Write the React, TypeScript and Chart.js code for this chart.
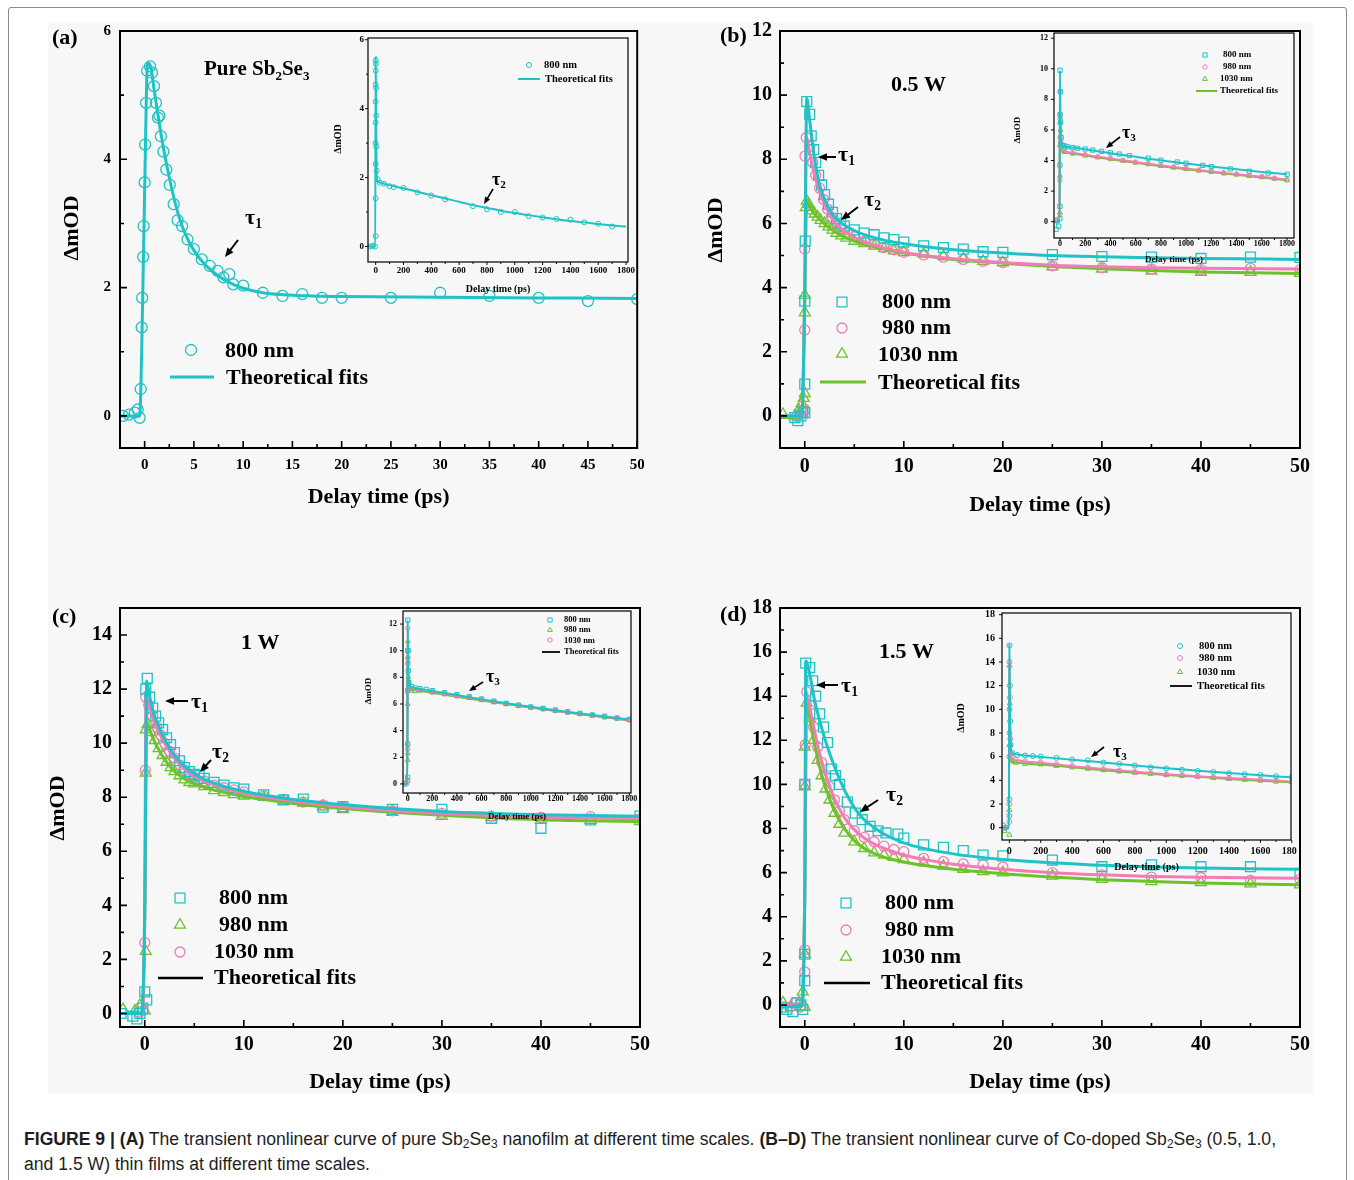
import React, { useEffect, useRef } from 'react';
import { Chart, registerables } from 'chart.js';

Chart.register(...registerables);

type P = [number, number];

// ---------------- DATA ----------------
// Panel (a) main: pure Sb2Se3, 800 nm
const A_800_PTS: P[] = [[-2.2,0.0],[-1.6,0.02],[-1.0,0.05],[-0.7,0.1],[-0.5,-0.03],[-0.4,0.42],[-0.3,1.38],[-0.25,1.84],[-0.15,2.48],[-0.1,2.96],[0,3.64],[0.05,4.23],[0.15,4.88],[0.25,5.38],[0.55,5.45],[0.75,5.35],[0.95,5.14],[1.15,4.88],[1.35,4.65],[1.5,4.68],[1.65,4.36],[1.9,4.12],[2.2,3.84],[2.55,3.6],[2.95,3.3],[3.35,3.05],[3.8,2.96],[4.35,2.75],[5.0,2.6],[5.8,2.44],[6.6,2.34],[7.4,2.26],[8.0,2.16],[8.6,2.21],[9.0,2.05],[10,2.03],[12,1.92],[14,1.87],[16,1.9],[18,1.84],[20,1.84],[25,1.84],[30,1.92],[35,1.87],[40,1.84],[45,1.79],[50,1.82]];
const A_800_FIT: P[] = [[-2.5,0],[-0.5,0],[-0.3,1.0],[0.0,3.5],[0.3,5.5],[0.6,5.45],[1.0,5.05],[1.5,4.55],[2.0,4.1],[2.5,3.72],[3.0,3.38],[3.5,3.1],[4.0,2.88],[5.0,2.58],[6.0,2.38],[7.0,2.24],[8.0,2.13],[9.0,2.05],[10,1.99],[12,1.92],[14,1.89],[17,1.87],[20,1.86],[30,1.85],[40,1.84],[50,1.83]];
// Panel (a) inset
const AI_800_PTS: P[] = [[-40,0],[-20,0.02],[-5,0],[0,0.3],[0,1.4],[0,2.4],[0,3.0],[0,3.6],[0,4.2],[0,4.7],[1,5.1],[1,5.4],[2,5.3],[3,4.6],[4,3.8],[5,2.9],[8,2.2],[15,1.95],[30,1.85],[60,1.82],[100,1.75],[130,1.72],[200,1.7],[300,1.57],[400,1.48],[500,1.37],[700,1.17],[800,1.08],[900,1.0],[1000,1.0],[1100,0.88],[1200,0.84],[1300,0.8],[1400,0.78],[1500,0.7],[1600,0.66],[1700,0.58]];
const AI_800_FIT: P[] = [[-55,0],[-3,0],[0,5.5],[3,4.0],[6,2.5],[10,1.92],[30,1.86],[60,1.82],[100,1.78],[200,1.69],[300,1.59],[400,1.49],[500,1.39],[600,1.3],[700,1.2],[800,1.12],[900,1.04],[1000,0.97],[1100,0.91],[1200,0.85],[1300,0.79],[1400,0.74],[1500,0.7],[1600,0.65],[1700,0.61],[1800,0.58]];

// Panel (b) main: 0.5 W
const B_800_PTS: P[] = [[-1.0,-0.05],[-0.7,-0.15],[-0.4,0.0],[-0.2,0.1],[0,0.1],[0,0.99],[0,3.58],[0.05,5.45],[0.2,9.8],[0.5,9.4],[0.65,8.73],[0.9,8.3],[1.1,7.9],[1.4,7.5],[1.7,7.2],[2.0,6.9],[2.4,6.6],[2.8,6.35],[3.2,6.15],[3.6,6.0],[4.0,5.92],[5.0,5.8],[6.0,5.7],[7.0,5.65],[8.0,5.55],[9.0,5.5],[10,5.42],[12,5.3],[14,5.25],[16,5.2],[18,5.12],[20,5.1],[25,5.03],[30,4.97],[35,4.95],[40,4.91],[45,4.95],[50,4.94]];
const B_800_FIT: P[] = [[-2.5,0],[-0.3,0],[0,4],[0.2,9.9],[0.5,9.2],[1,8.0],[1.5,7.2],[2,6.75],[3,6.2],[4,5.95],[5,5.78],[6,5.65],[8,5.48],[10,5.37],[12,5.28],[15,5.18],[20,5.08],[25,5.0],[30,4.96],[35,4.93],[40,4.91],[50,4.88]];
const B_980_PTS: P[] = [[-0.8,0.0],[-0.5,0.05],[-0.2,0.1],[0,0.2],[0,2.68],[0,5.2],[0.02,8.1],[0.15,8.68],[0.5,8.4],[0.8,7.9],[1.1,7.5],[1.5,7.1],[1.9,6.75],[2.3,6.45],[2.7,6.2],[3.2,6.0],[3.7,5.85],[4.3,5.7],[5,5.58],[6,5.45],[7,5.35],[8,5.25],[9,5.18],[10,5.1],[12,5.02],[14,4.95],[16,4.88],[18,4.82],[20,4.78],[25,4.68],[30,4.62],[35,4.58],[40,4.56],[45,4.6],[50,4.56]];
const B_980_FIT: P[] = [[-2.5,0],[-0.3,0],[0,4],[0.15,8.7],[0.5,8.2],[1,7.5],[1.5,7.0],[2,6.6],[3,6.05],[4,5.75],[5,5.57],[6,5.43],[8,5.24],[10,5.1],[12,5.0],[15,4.9],[20,4.78],[25,4.7],[30,4.65],[35,4.62],[40,4.6],[50,4.58]];
const B_1030_PTS: P[] = [[-2.2,0.05],[-1.0,0.0],[-0.6,0.2],[-0.3,0.4],[-0.1,0.55],[0,0.7],[0,3.22],[0,3.76],[0.1,6.5],[0.2,6.7],[0.4,6.6],[0.7,6.4],[1.0,6.3],[1.3,6.2],[1.6,6.1],[2.0,6.0],[2.4,5.9],[2.8,5.8],[3.2,5.7],[3.7,5.62],[4.2,5.55],[5,5.45],[6,5.38],[7,5.3],[8,5.22],[9,5.15],[10,5.1],[12,5.05],[14,4.97],[16,4.9],[18,4.82],[20,4.78],[25,4.65],[30,4.58],[35,4.52],[40,4.48],[45,4.48],[50,4.45]];
const B_1030_FIT: P[] = [[-2.5,-0.05],[-0.3,0],[0,3.5],[0.2,6.75],[0.5,6.55],[1,6.3],[2,5.98],[3,5.75],[4,5.58],[5,5.46],[6,5.36],[8,5.2],[10,5.08],[12,4.99],[15,4.88],[20,4.76],[25,4.66],[30,4.59],[35,4.53],[40,4.49],[50,4.44]];
// Panel (b) inset
const BI_800_PTS: P[] = [[-30,-0.5],[-10,-0.3],[0,0.2],[0,1.0],[0,3.7],[1,7],[1,9.9],[3,8.5],[5,6.5],[10,5.5],[20,5.0],[40,4.95],[60,4.9],[100,4.85],[140,4.8],[200,4.75],[260,4.68],[330,4.6],[400,4.5],[470,4.42],[550,4.32],[700,4.15],[800,4.02],[930,3.9],[1000,3.82],[1130,3.68],[1200,3.6],[1350,3.45],[1500,3.3],[1650,3.18],[1800,3.1]];
const BI_800_FIT: P[] = [[-47,0],[-3,0],[0,9.9],[3,7.5],[6,5.5],[15,5.0],[40,4.92],[100,4.85],[200,4.73],[300,4.6],[400,4.48],[500,4.36],[600,4.24],[700,4.12],[800,4.01],[900,3.9],[1000,3.8],[1200,3.6],[1400,3.42],[1600,3.25],[1800,3.1]];
const BI_980_PTS: P[] = [[-20,0],[0,0.5],[0,2.7],[1,5.5],[1,8.5],[3,7],[6,5.2],[15,4.7],[40,4.6],[100,4.5],[200,4.38],[300,4.25],[400,4.13],[500,4.02],[600,3.9],[700,3.8],[800,3.68],[900,3.58],[1000,3.48],[1100,3.38],[1200,3.3],[1300,3.2],[1400,3.12],[1500,3.02],[1600,2.95],[1700,2.85],[1800,2.75]];
const BI_980_FIT: P[] = [[-47,0],[-3,0],[0,8.6],[3,6.8],[6,5.0],[15,4.65],[40,4.57],[100,4.5],[200,4.38],[400,4.13],[600,3.9],[800,3.68],[1000,3.47],[1200,3.28],[1400,3.1],[1600,2.93],[1800,2.75]];
const BI_1030_PTS: P[] = [[-30,0.1],[0,0.6],[0,3.0],[0,5.0],[1,6.5],[2,6.8],[4,6.0],[8,5.2],[15,4.7],[40,4.55],[100,4.45],[200,4.32],[300,4.2],[400,4.08],[500,3.97],[600,3.85],[700,3.75],[800,3.63],[900,3.53],[1000,3.43],[1100,3.33],[1200,3.25],[1300,3.15],[1400,3.07],[1500,2.98],[1600,2.9],[1700,2.8],[1800,2.7]];
const BI_1030_FIT: P[] = [[-47,0],[-3,0],[0,6.8],[4,5.8],[8,4.9],[15,4.6],[40,4.52],[100,4.45],[200,4.33],[400,4.08],[600,3.85],[800,3.63],[1000,3.43],[1200,3.24],[1400,3.06],[1600,2.88],[1800,2.7]];

// Panel (c) main: 1 W
const C_800_PTS: P[] = [[-2.4,0.0],[-1.2,-0.1],[-0.8,-0.2],[-0.5,0.0],[-0.2,0.2],[0,0.8],[0.2,0.5],[0.1,12.0],[0.25,12.4],[0.5,11.7],[0.8,11.3],[1.1,11.0],[1.4,10.75],[1.8,10.5],[2.2,10.2],[2.6,9.95],[3.0,9.65],[3.5,9.35],[4.0,9.1],[4.5,8.95],[5.0,8.85],[5.5,8.8],[6.0,8.7],[7.0,8.55],[8.0,8.45],[9.0,8.35],[10,8.3],[12,8.09],[14,7.9],[16,7.93],[18,7.63],[20,7.65],[25,7.55],[30,7.55],[35,7.22],[40,6.85],[45,7.16],[50,7.3]];
const C_800_FIT: P[] = [[-2.5,0],[-0.3,0],[0,4],[0.2,12.3],[0.5,11.7],[1,11.0],[1.5,10.55],[2,10.15],[3,9.55],[4,9.15],[5,8.87],[6,8.67],[8,8.4],[10,8.22],[12,8.08],[15,7.92],[20,7.73],[25,7.58],[30,7.47],[35,7.4],[40,7.35],[50,7.3]];
const C_980_PTS: P[] = [[-2.2,0.15],[-1.0,0.1],[-0.5,0.3],[0,0.1],[0.1,2.3],[0.1,8.9],[0.1,10.5],[0.3,10.7],[0.6,10.4],[1.0,10.1],[1.4,9.8],[1.8,9.55],[2.2,9.3],[2.6,9.1],[3.0,8.95],[3.5,8.8],[4.0,8.65],[4.5,8.55],[5,8.5],[6,8.4],[7,8.25],[8,8.18],[9,8.1],[10,8.05],[12,8.0],[14,7.85],[16,7.78],[18,7.65],[20,7.55],[25,7.45],[30,7.3],[35,7.25],[40,7.15],[45,7.15],[50,7.1]];
const C_980_FIT: P[] = [[-2.5,0],[-0.3,0],[0,3.5],[0.2,10.8],[0.5,10.5],[1,10.05],[1.5,9.7],[2,9.4],[3,8.95],[4,8.68],[5,8.5],[6,8.37],[8,8.18],[10,8.03],[12,7.92],[15,7.77],[20,7.58],[25,7.44],[30,7.33],[35,7.24],[40,7.17],[50,7.1]];
const C_1030_PTS: P[] = [[-0.6,0.05],[-0.2,0.1],[0,2.62],[0.05,9.0],[0.1,11.7],[0.4,11.4],[0.8,11.0],[1.2,10.6],[1.6,10.3],[2.0,10.0],[2.5,9.7],[3.0,9.45],[3.5,9.2],[4.0,9.0],[4.5,8.85],[5,8.75],[6,8.6],[7,8.45],[8,8.35],[9,8.27],[10,8.2],[12,8.05],[14,7.92],[16,7.82],[18,7.72],[20,7.63],[25,7.5],[30,7.4],[35,7.3],[40,7.25],[45,7.28],[50,7.2]];
const C_1030_FIT: P[] = [[-2.5,0],[-0.3,0],[0,4],[0.12,11.7],[0.5,11.3],[1,10.75],[1.5,10.35],[2,10.0],[3,9.45],[4,9.05],[5,8.78],[6,8.6],[8,8.34],[10,8.15],[12,8.02],[15,7.85],[20,7.65],[25,7.5],[30,7.4],[35,7.32],[40,7.26],[50,7.2]];
// Panel (c) inset
const CI_800_PTS: P[] = [[-30,0],[0,0.5],[0,3],[0,7],[1,10],[1,12.3],[3,10],[5,8.5],[10,7.6],[30,7.3],[60,7.2],[100,7.15],[150,7.1],[200,7.0],[300,6.85],[400,6.7],[500,6.55],[600,6.38],[700,6.22],[800,6.05],[900,5.92],[1000,5.78],[1100,5.68],[1200,5.55],[1300,5.42],[1400,5.3],[1500,5.18],[1600,5.08],[1700,4.95],[1800,4.85]];
const CI_800_FIT: P[] = [[-41,0],[-3,0],[0,12.3],[3,9.5],[8,7.8],[20,7.35],[50,7.22],[100,7.13],[200,6.98],[400,6.67],[600,6.36],[800,6.06],[1000,5.79],[1200,5.53],[1400,5.29],[1600,5.06],[1800,4.85]];
const CI_980_PTS: P[] = [[-20,0.1],[0,0.3],[0,1.8],[0,2.3],[0,6],[1,9.5],[1,10.7],[3,9.2],[6,8],[10,7.3],[30,7.0],[60,6.95],[100,7.0],[200,6.85],[300,6.72],[400,6.58],[500,6.45],[600,6.28],[700,6.12],[800,5.98],[900,5.84],[1000,5.72],[1100,5.6],[1200,5.48],[1300,5.36],[1400,5.24],[1500,5.12],[1600,5.0],[1700,4.9],[1800,4.78]];
const CI_980_FIT: P[] = [[-41,0],[-3,0],[0,10.7],[3,9.0],[8,7.5],[20,7.15],[50,7.05],[100,6.98],[200,6.84],[400,6.55],[600,6.27],[800,5.99],[1000,5.73],[1200,5.47],[1400,5.23],[1600,5.0],[1800,4.76]];
const CI_1030_PTS: P[] = [[-10,0],[0,0.2],[0,2.6],[1,9],[1,11.7],[3,9.5],[8,7.6],[30,7.15],[100,7.05],[200,6.92],[300,6.78],[400,6.63],[500,6.5],[600,6.33],[700,6.17],[800,6.02],[900,5.88],[1000,5.75],[1100,5.63],[1200,5.51],[1300,5.38],[1400,5.26],[1500,5.15],[1600,5.03],[1700,4.92],[1800,4.8]];
const CI_1030_FIT: P[] = [[-41,0],[-3,0],[0,11.7],[3,9.3],[8,7.6],[20,7.25],[50,7.12],[100,7.05],[200,6.9],[400,6.6],[600,6.31],[800,6.02],[1000,5.76],[1200,5.5],[1400,5.26],[1600,5.03],[1800,4.8]];

// Panel (d) main: 1.5 W
const D_800_PTS: P[] = [[-2.4,-0.1],[-1.8,-0.2],[-1.2,-0.3],[-0.8,0.1],[-0.4,0.0],[-0.2,-0.2],[0,1.1],[0,2.3],[0,10.0],[0.1,15.5],[0.5,15.3],[0.8,14.7],[1.1,14.0],[1.5,13.2],[1.9,12.6],[2.3,11.9],[2.7,10.7],[3.1,10.4],[3.5,10.0],[4.3,9.2],[5.1,8.7],[5.8,8.4],[6.6,8.1],[7.4,7.9],[8.2,7.8],[9.4,7.75],[10,7.57],[12,7.26],[14,7.15],[16,7.0],[18,6.8],[20,6.76],[25,6.57],[30,6.27],[35,6.35],[40,6.27],[45,6.27],[50,5.97]];
const D_800_FIT: P[] = [[-2.5,-0.1],[-0.3,0],[0,5],[0.1,15.6],[0.5,15.0],[1,13.8],[1.5,12.9],[2,12.1],[3,10.8],[4,9.75],[5,8.95],[6,8.4],[7,8.05],[8,7.75],[10,7.35],[12,7.1],[15,6.85],[20,6.6],[25,6.45],[30,6.33],[35,6.26],[40,6.21],[50,6.15]];
const D_980_PTS: P[] = [[-1.5,-0.1],[-1.0,0.1],[-0.5,-0.1],[0,1.5],[0,2.5],[0,10],[0.05,11.8],[0.2,14.2],[0.5,13.6],[0.9,12.6],[1.3,11.7],[1.7,11.0],[2.1,10.4],[2.5,9.9],[3.0,9.3],[3.5,8.8],[4.0,8.4],[5,7.9],[6,7.6],[7,7.4],[8,7.2],[9,7.05],[10,6.95],[12,6.65],[14,6.5],[16,6.4],[18,6.35],[20,6.25],[25,6.0],[30,5.9],[35,5.8],[40,5.78],[45,5.65],[50,5.7]];
const D_980_FIT: P[] = [[-2.5,0],[-0.3,0],[0,5],[0.15,14.2],[0.5,13.5],[1,12.4],[1.5,11.4],[2,10.6],[3,9.35],[4,8.5],[5,7.95],[6,7.57],[7,7.3],[8,7.1],[10,6.8],[12,6.6],[15,6.38],[20,6.15],[25,6.0],[30,5.9],[35,5.83],[40,5.79],[50,5.74]];
const D_1030_PTS: P[] = [[-2.2,0.1],[-1.4,-0.1],[-0.6,0.1],[-0.2,0.6],[0,-0.1],[0,2.3],[0,9.9],[0,11.7],[0.2,13.7],[0.5,13.0],[0.9,12.0],[1.3,11.1],[1.7,10.4],[2.1,9.8],[2.5,9.3],[3.0,8.7],[3.5,8.2],[4.0,7.8],[5,7.4],[6,7.1],[7,6.9],[8,6.8],[9,6.7],[10,6.6],[12,6.45],[14,6.3],[16,6.15],[18,6.05],[20,6.0],[25,5.85],[30,5.7],[35,5.6],[40,5.55],[45,5.5],[50,5.45]];
const D_1030_FIT: P[] = [[-2.5,0],[-0.3,0],[0,5],[0.2,13.8],[0.5,13.0],[1,11.8],[1.5,10.8],[2,10.0],[3,8.8],[4,8.0],[5,7.45],[6,7.1],[7,6.87],[8,6.7],[10,6.48],[12,6.33],[15,6.15],[20,5.95],[25,5.8],[30,5.68],[35,5.6],[40,5.53],[50,5.45]];
// Panel (d) inset
const DI_800_PTS: P[] = [[-40,0.2],[-20,0],[0,1.0],[0,2.4],[0,6],[1,10],[1,15.4],[3,12],[5,9],[8,7],[20,6.3],[50,6.15],[100,6.1],[150,6.05],[200,6.0],[300,5.9],[400,5.75],[500,5.7],[600,5.5],[700,5.4],[800,5.25],[900,5.1],[1000,5.0],[1100,4.9],[1200,4.8],[1300,4.72],[1400,4.6],[1500,4.52],[1600,4.45],[1700,4.35],[1800,4.28]];
const DI_800_FIT: P[] = [[-49,0],[-3,0],[0,15.5],[3,11],[6,8.0],[15,6.4],[40,6.2],[100,6.1],[200,5.98],[400,5.75],[600,5.5],[800,5.25],[1000,5.02],[1200,4.82],[1400,4.62],[1600,4.43],[1800,4.25]];
const DI_980_PTS: P[] = [[-30,0],[0,0.5],[0,2],[1,8],[1,14],[3,11],[6,7.5],[15,6.0],[40,5.75],[100,5.6],[200,5.5],[300,5.35],[400,5.2],[500,5.08],[600,4.95],[700,4.82],[800,4.7],[900,4.6],[1000,4.5],[1100,4.42],[1200,4.35],[1300,4.27],[1400,4.2],[1500,4.12],[1600,4.05],[1700,3.98],[1800,3.92]];
const DI_980_FIT: P[] = [[-49,0],[-3,0],[0,14.2],[3,10],[6,7.2],[15,5.9],[40,5.72],[100,5.6],[200,5.48],[400,5.2],[600,4.95],[800,4.72],[1000,4.52],[1200,4.35],[1400,4.2],[1600,4.05],[1800,3.9]];
const DI_1030_PTS: P[] = [[-30,-0.3],[0,-0.6],[0,1.5],[1,7],[1,13.7],[3,10.5],[6,7],[15,5.6],[40,5.5],[100,5.4],[200,5.35],[300,5.22],[400,5.1],[500,4.98],[600,4.86],[700,4.75],[800,4.64],[900,4.55],[1000,4.45],[1100,4.38],[1200,4.3],[1300,4.2],[1400,4.12],[1500,4.05],[1600,3.98],[1700,3.9],[1800,3.85]];
const DI_1030_FIT: P[] = [[-49,0],[-3,0],[0,13.7],[3,9.5],[6,6.8],[15,5.6],[40,5.5],[100,5.42],[200,5.33],[400,5.1],[600,4.86],[800,4.65],[1000,4.46],[1200,4.3],[1400,4.12],[1600,3.97],[1800,3.83]];

// Tick values
const A_X_TICKS = [0, 5, 10, 15, 20, 25, 30, 35, 40, 45, 50];
const A_X_MINOR = [2.5, 7.5, 12.5, 17.5, 22.5, 27.5, 32.5, 37.5, 42.5, 47.5];
const A_Y_TICKS = [0, 2, 4, 6];
const A_Y_MINOR = [1, 3, 5];
const MAIN_X_TICKS = [0, 10, 20, 30, 40, 50];
const MAIN_X_MINOR = [5, 15, 25, 35, 45];
const B_Y_TICKS = [0, 2, 4, 6, 8, 10, 12];
const B_Y_MINOR = [1, 3, 5, 7, 9, 11];
const C_Y_TICKS = [0, 2, 4, 6, 8, 10, 12, 14];
const C_Y_MINOR = [1, 3, 5, 7, 9, 11, 13];
const D_Y_TICKS = [0, 2, 4, 6, 8, 10, 12, 14, 16, 18];
const D_Y_MINOR = [1, 3, 5, 7, 9, 11, 13, 15, 17];
const INSET_X_TICKS = [0, 200, 400, 600, 800, 1000, 1200, 1400, 1600, 1800];
const INSET_X_MINOR = [100, 300, 500, 700, 900, 1100, 1300, 1500, 1700];
const AI_Y_TICKS = [0, 2, 4, 6];
const AI_Y_MINOR = [1, 3, 5];
const BI_Y_TICKS = [0, 2, 4, 6, 8, 10, 12];
const CI_Y_TICKS = [0, 2, 4, 6, 8, 10, 12];
const DI_Y_TICKS = [0, 2, 4, 6, 8, 10, 12, 14, 16, 18];

const LEGEND_LABELS = ['800 nm', '980 nm', '1030 nm', 'Theoretical fits'];
const C_LEGEND_LABELS = ['800 nm', '980 nm', '1030 nm', 'Theoretical fits'];
const X_TITLE = 'Delay time (ps)';
const Y_TITLE = 'ΔmOD';

// ---------------- STYLE ----------------
const FAM = '"Liberation Serif", "Times New Roman", serif';
const CYAN = '#1fc3c6';
const PINK = '#f27cb6';
const GREEN = '#6cc22a';
const BLACK = '#000000';

type Shape = 'circle' | 'rect' | 'triangle';
type Part = [string, number];
type Annot =
  | { k: 'text'; x: number; y: number; parts: Part[]; size: number; align?: 'left' | 'center' }
  | { k: 'vtext'; x: number; y: number; s: string; size: number }
  | { k: 'arrow'; x1: number; y1: number; x2: number; y2: number; lw: number; head: number }
  | { k: 'marker'; x: number; y: number; shape: Shape; r: number; color: string; lw: number }
  | { k: 'line'; x1: number; x2: number; y: number; color: string; lw: number };

interface Series { pts: P[]; fit: P[]; color: string; shape: Shape; r: number; lw: number; mlw: number; }
interface Axis { min: number; max: number; ticks: number[]; minor: number[]; }
interface Spec {
  id: string;
  box: { left: number; top: number; width: number; height: number };
  area: { left: number; top: number; right: number; bottom: number };
  x: Axis; y: Axis;
  tickSize: number; xPad: number; yPad: number;
  titleSize: number; xTitle: string | null; xTitlePad: number;
  frameW: number; tickDir: number; tickLen: number; minorLen: number;
  series: Series[];
  annots: Annot[];
}

const txt = (x: number, y: number, s: string, size: number, align: 'left' | 'center' = 'left'): Annot => ({ k: 'text', x, y, parts: [[s, 0]], size, align });
const vt = (x: number, y: number, s: string, size: number): Annot => ({ k: 'vtext', x, y, s, size });
const tau = (x: number, y: number, n: string, size: number): Annot => ({ k: 'text', x, y, parts: [['τ', 0], [n, 1]], size, align: 'left' });
const arrow = (x1: number, y1: number, x2: number, y2: number, lw = 2, head = 9): Annot => ({ k: 'arrow', x1, y1, x2, y2, lw, head });
const mk = (x: number, y: number, shape: Shape, r: number, color: string, lw = 1.3): Annot => ({ k: 'marker', x, y, shape, r, color, lw });
const ln = (x1: number, x2: number, y: number, color: string, lw = 3): Annot => ({ k: 'line', x1, x2, y, color, lw });

const SPECS: Spec[] = [
  {
    id: 'a', box: { left: 48, top: 18, width: 596, height: 497 }, area: { left: 120, top: 31, right: 640, bottom: 448 },
    x: { min: -2.5, max: 50, ticks: A_X_TICKS, minor: A_X_MINOR }, y: { min: -0.5, max: 6, ticks: A_Y_TICKS, minor: A_Y_MINOR },
    tickSize: 15, xPad: 8, yPad: 9, titleSize: 22, xTitle: X_TITLE, xTitlePad: 4.8,
    frameW: 2, tickDir: 1, tickLen: 7, minorLen: 4,
    series: [{ pts: A_800_PTS, fit: A_800_FIT, color: CYAN, shape: 'circle', r: 5.5, lw: 3, mlw: 1.3 }],
    annots: [
      txt(52, 38, '(a)', 22), vt(72, 228, Y_TITLE, 22),
      { k: 'text', x: 204, y: 70, parts: [['Pure Sb', 0], ['2', 1], ['Se', 0], ['3', 1]], size: 21, align: 'left' },
      tau(245, 218, '1', 22), arrow(238, 240, 225, 257),
      mk(191, 350, 'circle', 5.5, CYAN), txt(225, 351, LEGEND_LABELS[0], 22),
      ln(170, 214, 377, CYAN), txt(226, 378, LEGEND_LABELS[3], 22),
    ],
  },
  {
    id: 'b', box: { left: 690, top: 16, width: 623, height: 509 }, area: { left: 780, top: 31, right: 1300, bottom: 448 },
    x: { min: -2.5, max: 50, ticks: MAIN_X_TICKS, minor: MAIN_X_MINOR }, y: { min: -1, max: 12, ticks: B_Y_TICKS, minor: B_Y_MINOR },
    tickSize: 20, xPad: 7, yPad: 8, titleSize: 22, xTitle: X_TITLE, xTitlePad: 6.8,
    frameW: 2, tickDir: 1, tickLen: 7, minorLen: 4,
    series: [
      { pts: B_800_PTS, fit: B_800_FIT, color: CYAN, shape: 'rect', r: 7, lw: 3, mlw: 1.3 },
      { pts: B_980_PTS, fit: B_980_FIT, color: PINK, shape: 'circle', r: 5, lw: 3, mlw: 1.3 },
      { pts: B_1030_PTS, fit: B_1030_FIT, color: GREEN, shape: 'triangle', r: 6.3, lw: 3, mlw: 1.3 },
    ],
    annots: [
      txt(720, 36, '(b)', 22), vt(716, 230, Y_TITLE, 22), txt(891, 85, '0.5 W', 22),
      tau(838, 155, '1', 22), arrow(836, 157, 818, 157),
      tau(864, 200, '2', 22), arrow(858, 207, 841, 220),
      mk(842, 302, 'rect', 7, CYAN), txt(882, 302, LEGEND_LABELS[0], 22),
      mk(842, 328, 'circle', 5, PINK), txt(882, 328, LEGEND_LABELS[1], 22),
      mk(842, 354, 'triangle', 6.3, GREEN), txt(878, 355, LEGEND_LABELS[2], 22),
      ln(820, 866, 382, GREEN), txt(878, 383, LEGEND_LABELS[3], 22),
    ],
  },
  {
    id: 'c', box: { left: 40, top: 596, width: 620, height: 504 }, area: { left: 120, top: 608, right: 640, bottom: 1027 },
    x: { min: -2.5, max: 50, ticks: MAIN_X_TICKS, minor: MAIN_X_MINOR }, y: { min: -0.5, max: 15, ticks: C_Y_TICKS, minor: C_Y_MINOR },
    tickSize: 20, xPad: 6, yPad: 8, titleSize: 22, xTitle: X_TITLE, xTitlePad: 4.8,
    frameW: 2, tickDir: 1, tickLen: 7, minorLen: 4,
    series: [
      { pts: C_800_PTS, fit: C_800_FIT, color: CYAN, shape: 'rect', r: 7, lw: 3, mlw: 1.3 },
      { pts: C_1030_PTS, fit: C_1030_FIT, color: PINK, shape: 'circle', r: 5, lw: 3, mlw: 1.3 },
      { pts: C_980_PTS, fit: C_980_FIT, color: GREEN, shape: 'triangle', r: 6.3, lw: 3, mlw: 1.3 },
    ],
    annots: [
      txt(52, 617, '(c)', 22), vt(58, 808, Y_TITLE, 22), txt(241, 643, '1 W', 22),
      tau(191, 702, '1', 22), arrow(188, 701, 165, 701),
      tau(212, 752, '2', 22), arrow(211, 760, 200, 772),
      mk(180, 898, 'rect', 7, CYAN), txt(219, 898, C_LEGEND_LABELS[0], 22),
      mk(180, 925, 'triangle', 6.3, GREEN), txt(219, 925, C_LEGEND_LABELS[1], 22),
      mk(180, 952, 'circle', 5, PINK), txt(214, 952, C_LEGEND_LABELS[2], 22),
      ln(158, 203, 978, BLACK, 2.5), txt(214, 978, C_LEGEND_LABELS[3], 22),
    ],
  },
  {
    id: 'd', box: { left: 690, top: 596, width: 623, height: 504 }, area: { left: 780, top: 608, right: 1300, bottom: 1027 },
    x: { min: -2.5, max: 50, ticks: MAIN_X_TICKS, minor: MAIN_X_MINOR }, y: { min: -1, max: 18, ticks: D_Y_TICKS, minor: D_Y_MINOR },
    tickSize: 20, xPad: 6, yPad: 8, titleSize: 22, xTitle: X_TITLE, xTitlePad: 4.8,
    frameW: 2, tickDir: 1, tickLen: 7, minorLen: 4,
    series: [
      { pts: D_800_PTS, fit: D_800_FIT, color: CYAN, shape: 'rect', r: 7, lw: 3, mlw: 1.3 },
      { pts: D_980_PTS, fit: D_980_FIT, color: PINK, shape: 'circle', r: 5, lw: 3, mlw: 1.3 },
      { pts: D_1030_PTS, fit: D_1030_FIT, color: GREEN, shape: 'triangle', r: 6.3, lw: 3, mlw: 1.3 },
    ],
    annots: [
      txt(720, 615, '(d)', 22), txt(879, 652, '1.5 W', 22),
      tau(841, 686, '1', 22), arrow(838, 685, 816, 685),
      tau(886, 795, '2', 22), arrow(878, 800, 860, 812),
      mk(846, 903, 'rect', 7, CYAN), txt(885, 903, LEGEND_LABELS[0], 22),
      mk(846, 930, 'circle', 5, PINK), txt(885, 930, LEGEND_LABELS[1], 22),
      mk(846, 957, 'triangle', 6.3, GREEN), txt(881, 957, LEGEND_LABELS[2], 22),
      ln(824, 870, 983, BLACK, 2.5), txt(881, 983, LEGEND_LABELS[3], 22),
    ],
  },
  {
    id: 'ai', box: { left: 330, top: 30, width: 307, height: 268 }, area: { left: 368, top: 38, right: 628, bottom: 262 },
    x: { min: -55, max: 1814, ticks: INSET_X_TICKS, minor: INSET_X_MINOR }, y: { min: -0.45, max: 6.05, ticks: AI_Y_TICKS, minor: AI_Y_MINOR },
    tickSize: 9, xPad: 3.6, yPad: 4, titleSize: 10, xTitle: X_TITLE, xTitlePad: 3,
    frameW: 1.2, tickDir: -1, tickLen: 3, minorLen: 2,
    series: [{ pts: AI_800_PTS, fit: AI_800_FIT, color: CYAN, shape: 'circle', r: 2.5, lw: 2, mlw: 1 }],
    annots: [
      vt(338, 139, Y_TITLE, 10),
      mk(529, 65, 'circle', 2.5, CYAN, 1), txt(544, 65, LEGEND_LABELS[0], 10.5),
      ln(518, 540, 79, CYAN, 2), txt(545, 79, LEGEND_LABELS[3], 10.5),
      tau(492, 180, '2', 18), arrow(493, 189, 484, 204, 1.6, 7),
    ],
  },
  {
    id: 'bi', box: { left: 1010, top: 25, width: 289, height: 245 }, area: { left: 1054, top: 33, right: 1297, bottom: 238 },
    x: { min: -47, max: 1855, ticks: INSET_X_TICKS, minor: INSET_X_MINOR }, y: { min: -1.07, max: 12.34, ticks: BI_Y_TICKS, minor: [] },
    tickSize: 8, xPad: 1, yPad: 6, titleSize: 9, xTitle: X_TITLE, xTitlePad: 5,
    frameW: 1.2, tickDir: -1, tickLen: 3, minorLen: 2,
    series: [
      { pts: BI_800_PTS, fit: BI_800_FIT, color: CYAN, shape: 'rect', r: 3, lw: 2, mlw: 1 },
      { pts: BI_980_PTS, fit: BI_980_FIT, color: PINK, shape: 'circle', r: 2.2, lw: 2, mlw: 1 },
      { pts: BI_1030_PTS, fit: BI_1030_FIT, color: GREEN, shape: 'triangle', r: 2.8, lw: 2, mlw: 1 },
    ],
    annots: [
      vt(1018, 130, Y_TITLE, 9),
      mk(1205, 55, 'rect', 3, CYAN, 1), txt(1223, 55, LEGEND_LABELS[0], 9),
      mk(1205, 67, 'circle', 2.2, PINK, 1), txt(1223, 67, LEGEND_LABELS[1], 9),
      mk(1205, 79, 'triangle', 2.8, GREEN, 1), txt(1220, 79, LEGEND_LABELS[2], 9),
      ln(1196, 1217, 91, GREEN, 2), txt(1220, 91, LEGEND_LABELS[3], 9),
      tau(1122, 133, '3', 18), arrow(1120, 137, 1106, 148, 1.6, 7),
    ],
  },
  {
    id: 'ci', box: { left: 360, top: 603, width: 279, height: 222 }, area: { left: 403, top: 611, right: 631, bottom: 793 },
    x: { min: -38, max: 1814, ticks: INSET_X_TICKS, minor: INSET_X_MINOR }, y: { min: -0.68, max: 12.98, ticks: CI_Y_TICKS, minor: [] },
    tickSize: 8, xPad: 1, yPad: 6, titleSize: 9, xTitle: X_TITLE, xTitlePad: 3,
    frameW: 1.2, tickDir: -1, tickLen: 3, minorLen: 2,
    series: [
      { pts: CI_800_PTS, fit: CI_800_FIT, color: CYAN, shape: 'rect', r: 3, lw: 2, mlw: 1 },
      { pts: CI_1030_PTS, fit: CI_1030_FIT, color: PINK, shape: 'circle', r: 2.2, lw: 2, mlw: 1 },
      { pts: CI_980_PTS, fit: CI_980_FIT, color: GREEN, shape: 'triangle', r: 2.8, lw: 2, mlw: 1 },
    ],
    annots: [
      vt(369, 691, Y_TITLE, 9),
      mk(550, 620, 'rect', 3, CYAN, 1), txt(564, 620, C_LEGEND_LABELS[0], 8.5),
      mk(550, 630, 'triangle', 2.8, GREEN, 1), txt(564, 630, C_LEGEND_LABELS[1], 8.5),
      mk(550, 640, 'circle', 2.2, PINK, 1), txt(564, 641, C_LEGEND_LABELS[2], 8.5),
      ln(542, 560, 652, BLACK, 1.8), txt(564, 652, C_LEGEND_LABELS[3], 8.5),
      tau(486, 677, '3', 18), arrow(483, 682, 469, 691, 1.6, 7),
    ],
  },
  {
    id: 'di', box: { left: 950, top: 605, width: 347, height: 270 }, area: { left: 1002, top: 613, right: 1291, bottom: 840 },
    x: { min: -47, max: 1795, ticks: INSET_X_TICKS, minor: INSET_X_MINOR }, y: { min: -1.04, max: 18.14, ticks: DI_Y_TICKS, minor: [] },
    tickSize: 10, xPad: 5, yPad: 7, titleSize: 10, xTitle: X_TITLE, xTitlePad: 2,
    frameW: 1.2, tickDir: -1, tickLen: 3, minorLen: 2,
    series: [
      { pts: DI_800_PTS, fit: DI_800_FIT, color: CYAN, shape: 'circle', r: 2.5, lw: 2, mlw: 1 },
      { pts: DI_980_PTS, fit: DI_980_FIT, color: PINK, shape: 'circle', r: 2.5, lw: 2, mlw: 1 },
      { pts: DI_1030_PTS, fit: DI_1030_FIT, color: GREEN, shape: 'triangle', r: 3, lw: 2, mlw: 1 },
    ],
    annots: [
      vt(961, 718, Y_TITLE, 10),
      mk(1180, 646, 'circle', 2.5, CYAN, 1), txt(1199, 646, LEGEND_LABELS[0], 10.5),
      mk(1180, 658, 'circle', 2.5, PINK, 1), txt(1199, 658, LEGEND_LABELS[1], 10.5),
      mk(1180, 672, 'triangle', 3, GREEN, 1), txt(1197, 672, LEGEND_LABELS[2], 10.5),
      ln(1170, 1192, 686, BLACK, 1.8), txt(1197, 686, LEGEND_LABELS[3], 10.5),
      tau(1113, 752, '3', 18), arrow(1104, 747, 1091, 757, 1.6, 7),
    ],
  },
];

// ---------------- DRAWING HELPERS ----------------
function drawShape(ctx: CanvasRenderingContext2D, shape: Shape, x: number, y: number, r: number) {
  ctx.beginPath();
  if (shape === 'circle') {
    ctx.arc(x, y, r, 0, Math.PI * 2);
  } else if (shape === 'rect') {
    const s = r * Math.SQRT1_2;
    ctx.rect(x - s, y - s, 2 * s, 2 * s);
  } else {
    for (let i = 0; i < 3; i++) {
      const a = -Math.PI / 2 + (i * 2 * Math.PI) / 3;
      const px = x + Math.cos(a) * r;
      const py = y + Math.sin(a) * r;
      if (i === 0) ctx.moveTo(px, py); else ctx.lineTo(px, py);
    }
    ctx.closePath();
  }
  ctx.stroke();
}

function drawRich(ctx: CanvasRenderingContext2D, parts: Part[], x: number, y: number, size: number, align: 'left' | 'center') {
  const fontFor = (sub: number) => `bold ${sub ? size * 0.62 : size}px ${FAM}`;
  const widths = parts.map(([t, s]) => { ctx.font = fontFor(s); return ctx.measureText(t).width; });
  const total = widths.reduce((a, b) => a + b, 0);
  let cx = align === 'center' ? x - total / 2 : x;
  ctx.textAlign = 'left';
  ctx.textBaseline = 'middle';
  ctx.fillStyle = '#000';
  parts.forEach(([t, s], i) => {
    ctx.font = fontFor(s);
    ctx.fillText(t, cx, s ? y + size * 0.3 : y);
    cx += widths[i];
  });
}

function makeOverlay(spec: Spec) {
  return {
    id: 'overlay_' + spec.id,
    afterDraw(chart: any) {
      const ctx: CanvasRenderingContext2D = chart.ctx;
      const { left, right, top, bottom } = chart.chartArea;
      const xs = chart.scales.x;
      const ys = chart.scales.y;
      ctx.save();
      ctx.strokeStyle = '#000';
      ctx.fillStyle = '#000';
      ctx.lineWidth = spec.frameW;
      ctx.strokeRect(left, top, right - left, bottom - top);
      const d = spec.tickDir;
      ctx.lineWidth = spec.frameW * 0.8;
      ctx.beginPath();
      const tickX = (vals: number[], len: number) => vals.forEach((v) => {
        const px = xs.getPixelForValue(v);
        ctx.moveTo(px, bottom); ctx.lineTo(px, bottom - d * len);
      });
      const tickY = (vals: number[], len: number) => vals.forEach((v) => {
        const py = ys.getPixelForValue(v);
        ctx.moveTo(left, py); ctx.lineTo(left + d * len, py);
      });
      tickX(spec.x.ticks, spec.tickLen); tickX(spec.x.minor, spec.minorLen);
      tickY(spec.y.ticks, spec.tickLen); tickY(spec.y.minor, spec.minorLen);
      ctx.stroke();

      const ox = spec.box.left;
      const oy = spec.box.top;
      for (const a of spec.annots) {
        if (a.k === 'text') {
          drawRich(ctx, a.parts, a.x - ox, a.y - oy, a.size, a.align || 'left');
        } else if (a.k === 'vtext') {
          ctx.save();
          ctx.translate(a.x - ox, a.y - oy);
          ctx.rotate(-Math.PI / 2);
          ctx.font = `bold ${a.size}px ${FAM}`;
          ctx.textAlign = 'center';
          ctx.textBaseline = 'middle';
          ctx.fillStyle = '#000';
          ctx.fillText(a.s, 0, 0);
          ctx.restore();
        } else if (a.k === 'marker') {
          ctx.strokeStyle = a.color; ctx.lineWidth = a.lw;
          drawShape(ctx, a.shape, a.x - ox, a.y - oy, a.r);
        } else if (a.k === 'line') {
          ctx.strokeStyle = a.color; ctx.lineWidth = a.lw;
          ctx.beginPath(); ctx.moveTo(a.x1 - ox, a.y - oy); ctx.lineTo(a.x2 - ox, a.y - oy); ctx.stroke();
        } else if (a.k === 'arrow') {
          const x1 = a.x1 - ox, y1 = a.y1 - oy, x2 = a.x2 - ox, y2 = a.y2 - oy;
          const ang = Math.atan2(y2 - y1, x2 - x1);
          const h = a.head;
          ctx.strokeStyle = '#000'; ctx.fillStyle = '#000'; ctx.lineWidth = a.lw;
          ctx.beginPath(); ctx.moveTo(x1, y1);
          ctx.lineTo(x2 - Math.cos(ang) * h * 0.7, y2 - Math.sin(ang) * h * 0.7); ctx.stroke();
          const bx = x2 - Math.cos(ang) * h, by = y2 - Math.sin(ang) * h;
          const w = h * 0.42;
          ctx.beginPath();
          ctx.moveTo(x2, y2);
          ctx.lineTo(bx + Math.sin(ang) * w, by - Math.cos(ang) * w);
          ctx.lineTo(bx - Math.sin(ang) * w, by + Math.cos(ang) * w);
          ctx.closePath(); ctx.fill();
        }
      }
      ctx.restore();
    },
  };
}

function buildConfig(s: Spec): any {
  const padTop = s.area.top - s.box.top;
  const padRight = s.box.left + s.box.width - s.area.right;
  const yW = s.area.left - s.box.left;
  const xH = s.box.top + s.box.height - s.area.bottom;
  const tickFont = { family: FAM, size: s.tickSize, weight: 'bold' };
  const titleFont = { family: FAM, size: s.titleSize, weight: 'bold' };
  const lines = s.series.map((se) => ({
    data: se.fit.map(([x, y]) => ({ x, y })),
    showLine: true,
    borderColor: se.color,
    borderWidth: se.lw,
    pointRadius: 0,
    fill: false,
    cubicInterpolationMode: 'monotone',
  }));
  const points = s.series.map((se) => ({
    data: se.pts.map(([x, y]) => ({ x, y })),
    showLine: false,
    pointStyle: se.shape,
    pointRadius: se.r,
    pointBorderWidth: se.mlw,
    borderColor: se.color,
    backgroundColor: 'rgba(0,0,0,0)',
    pointBackgroundColor: 'rgba(0,0,0,0)',
  }));
  return {
    type: 'scatter',
    data: { datasets: [...lines, ...points] },
    options: {
      responsive: false,
      maintainAspectRatio: false,
      animation: false,
      events: [],
      layout: { padding: { top: padTop, right: padRight, left: 0, bottom: 0 } },
      plugins: { legend: { display: false }, tooltip: { enabled: false } },
      scales: {
        x: {
          type: 'linear', bounds: 'data', min: s.x.min, max: s.x.max,
          afterBuildTicks: (sc: any) => { sc.ticks = s.x.ticks.map((v) => ({ value: v })); },
          afterFit: (sc: any) => { sc.height = xH; sc.paddingLeft = 0; sc.paddingRight = 0; },
          ticks: { autoSkip: false, maxRotation: 0, minRotation: 0, padding: s.xPad, font: tickFont, color: '#000', callback: (v: number) => String(v) },
          grid: { display: false, drawTicks: false },
          border: { display: false },
          title: s.xTitle ? { display: true, text: s.xTitle, font: titleFont, color: '#000', padding: { top: 0, bottom: s.xTitlePad } } : { display: false },
        },
        y: {
          type: 'linear', bounds: 'data', min: s.y.min, max: s.y.max,
          afterBuildTicks: (sc: any) => { sc.ticks = s.y.ticks.map((v) => ({ value: v })); },
          afterFit: (sc: any) => { sc.width = yW; sc.paddingTop = 0; sc.paddingBottom = 0; },
          ticks: { autoSkip: false, padding: s.yPad, font: tickFont, color: '#000', callback: (v: number) => String(v) },
          grid: { display: false, drawTicks: false },
          border: { display: false },
          title: { display: false },
        },
      },
    },
    plugins: [makeOverlay(s)],
  };
}

function ChartCanvas({ spec }: { spec: Spec }) {
  const ref = useRef<HTMLCanvasElement>(null);
  useEffect(() => {
    if (!ref.current) return;
    const chart = new Chart(ref.current, buildConfig(spec));
    return () => chart.destroy();
  }, [spec]);
  const { left, top, width, height } = spec.box;
  return (
    <canvas
      ref={ref}
      width={width}
      height={height}
      style={{ position: 'absolute', left, top, width, height }}
    />
  );
}

const subStyle: React.CSSProperties = { fontSize: '0.68em', verticalAlign: '-0.28em', lineHeight: 0 };

export default function App() {
  return (
    <div style={{ position: 'absolute', left: 0, top: 0, width: 1354, height: 1180, background: '#ffffff', overflow: 'hidden' }}>
      <div style={{ position: 'absolute', left: 8, top: 7, width: 1337, height: 1200, border: '1px solid #8a8a8a', borderRadius: 3 }} />
      <div style={{ position: 'absolute', left: 48, top: 22, width: 1265, height: 1071, background: '#f7f7f7' }} />
      {SPECS.map((s) => (
        <ChartCanvas key={s.id} spec={s} />
      ))}
      <div
        style={{
          position: 'absolute', left: 24, top: 1127, whiteSpace: 'nowrap',
          fontFamily: '"Liberation Sans", Arial, sans-serif', fontSize: 17.6, lineHeight: '25px', color: '#1e1e1e',
        }}
      >
        <div>
          <b>FIGURE 9 | (A)</b> The transient nonlinear curve of pure Sb<span style={subStyle}>2</span>Se<span style={subStyle}>3</span> nanofilm at different time scales. <b>(B–D)</b> The transient nonlinear curve of Co-doped Sb<span style={subStyle}>2</span>Se<span style={subStyle}>3</span> (0.5, 1.0,
        </div>
        <div>and 1.5 W) thin films at different time scales.</div>
      </div>
    </div>
  );
}
